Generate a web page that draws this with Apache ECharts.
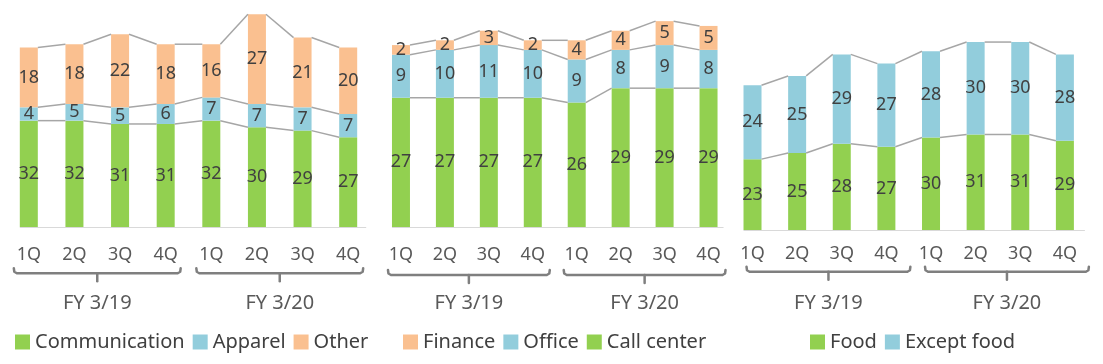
<!DOCTYPE html>
<html><head><meta charset="utf-8">
<script src="https://cdn.jsdelivr.net/npm/echarts@6/dist/echarts.min.js"></script>
<style>html,body{margin:0;padding:0;background:#fff}#c{width:1103px;height:364px}</style>
</head><body><div id="c"></div>
<script>
const quarters = ['1Q','2Q','3Q','4Q','1Q','2Q','3Q','4Q'];
const fiscalYears = ['FY 3/19','FY 3/20'];

// Panel 1
const communication = [32,32,31,31,32,30,29,27];
const apparel = [4,5,5,6,7,7,7,7];
const other = [18,18,22,18,16,27,21,20];
// Panel 2
const callCenter = [27,27,27,27,26,29,29,29];
const office = [9,10,11,10,9,8,9,8];
const finance = [2,2,3,2,4,4,5,5];
// Panel 3
const food = [23,25,28,27,30,31,31,29];
const exceptFood = [24,25,29,27,28,30,30,28];

const GREEN='#92D050', BLUE='#92CDDC', ORANGE='#FAC090';
const FONT='Noto Sans';
const BAR_W=18;

const panels = [
  {grid:{left:6,width:365,top:1,height:226}, max:68, labelMargin:19, bracketY:273.3, shift:0, axisExt:9,
   series:[['Communication',communication,GREEN],['Apparel',apparel,BLUE],['Other',other,ORANGE]],
   legend:['Communication','Apparel','Other'], legendLeft:15},
  {grid:{left:379,width:351.5,top:2,height:225}, max:47, labelMargin:19, bracketY:275, shift:2, axisExt:6,
   series:[['Call center',callCenter,GREEN],['Office',office,BLUE],['Finance',finance,ORANGE]],
   legend:['Finance','Office','Call center'], legendLeft:403},
  {grid:{left:730.2,width:357,top:2,height:228}, max:74, labelMargin:15, bracketY:271.7, shift:9, axisExt:11,
   series:[['Food',food,GREEN],['Except food',exceptFood,BLUE]],
   legend:['Food','Except food'], legendLeft:810}
];

const grids=[], xAxes=[], yAxes=[], series=[], legends=[];
panels.forEach((p,k)=>{
  grids.push(p.grid);
  xAxes.push({type:'category', gridIndex:k, data:quarters,
    axisTick:{show:false}, axisLine:{show:false},
    axisLabel:{color:'#595959', fontSize:18, fontFamily:FONT, margin:p.labelMargin, interval:0}});
  yAxes.push({type:'value', gridIndex:k, min:0, max:p.max, show:false, splitLine:{show:false}});
  const cum = quarters.map(()=>0);
  p.series.forEach(([name,vals,color])=>{
    series.push({type:'bar', name, stack:'s'+k, xAxisIndex:k, yAxisIndex:k, data:vals,
      barWidth:BAR_W, itemStyle:{color},
      label:{show:true, position:'inside', color:'#404040', fontSize:18, fontFamily:FONT}});
    vals.forEach((v,i)=>cum[i]+=v);
    const tops = cum.slice();
    const segs = [];
    for(let i=0;i<tops.length-1;i++) segs.push([i, tops[i], tops[i+1]]);
    series.push({type:'custom', xAxisIndex:k, yAxisIndex:k, silent:true, z:3, data:segs,
      renderItem:(params, api)=>{
        const i = api.value(0);
        const a = api.coord([i, api.value(1)]);
        const b = api.coord([i+1, api.value(2)]);
        return {type:'line', shape:{x1:a[0]+BAR_W/2, y1:a[1], x2:b[0]-BAR_W/2, y2:b[1]},
          style:{stroke:'#A6A6A6', lineWidth:1.5}};
      }});
  });
  legends.push({data:p.legend, left:p.legendLeft, top:332, padding:0, itemGap:8,
    itemWidth:15, itemHeight:15, icon:'rect', selectedMode:false,
    textStyle:{color:'#404040', fontSize:20, fontFamily:FONT}});
});

const chart = echarts.init(document.getElementById('c'), null, {renderer:'canvas'});
chart.setOption({animation:false, grid:grids, xAxis:xAxes, yAxis:yAxes, series, legend:legends});

const graphics=[];
panels.forEach((p,k)=>{
  // baseline
  const bx1 = chart.convertToPixel({xAxisIndex:k}, 0) - BAR_W/2;
  const bx2 = chart.convertToPixel({xAxisIndex:k}, quarters.length-1) + BAR_W/2 + p.axisExt;
  const by = Math.round(chart.convertToPixel({yAxisIndex:k}, 0)) + 0.5;
  graphics.push({type:'line', silent:true, z:-1, shape:{x1:bx1,y1:by,x2:bx2,y2:by},
    style:{stroke:'#D9D9D9', lineWidth:1}});
  [[0,3],[4,7]].forEach(([s,e],g)=>{
    const x1 = chart.convertToPixel({xAxisIndex:k}, s) - BAR_W/2 - 6 + p.shift;
    const x2 = chart.convertToPixel({xAxisIndex:k}, e) + BAR_W/2 + 6 + p.shift;
    const xm = (x1+x2)/2, y = p.bracketY;
    graphics.push({type:'polyline', silent:true, shape:{points:[[x1,y-5],[x1+0.5,y-1.5],[x1+3,y],[x2-3,y],[x2-0.5,y-1.5],[x2,y-5]]},
      style:{stroke:'#7F7F7F', lineWidth:2.5, fill:null, lineJoin:'round', lineCap:'round'}});
    graphics.push({type:'line', silent:true, shape:{x1:xm,y1:y,x2:xm,y2:y+8},
      style:{stroke:'#7F7F7F', lineWidth:2.5, lineCap:'round'}});
    graphics.push({type:'text', silent:true, x:xm, y:303,
      style:{text:fiscalYears[g], fill:'#595959', font:'20px "Noto Sans"', align:'center', verticalAlign:'middle'}});
  });
});
chart.setOption({graphic:graphics});
</script></body></html>
